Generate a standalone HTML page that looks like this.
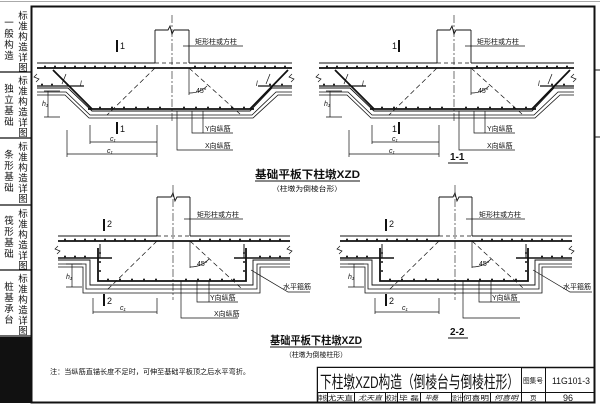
<!DOCTYPE html>
<html><head><meta charset="utf-8"><style>
html,body{margin:0;padding:0;background:#fff;}
body{width:600px;height:405px;overflow:hidden;}
svg{display:block;}
text{font-family:"Liberation Sans","Noto Sans CJK SC",sans-serif;fill:#111;}
</style></head><body>
<svg width="600" height="405" viewBox="0 0 600 405" xmlns="http://www.w3.org/2000/svg">
<defs>
<g id="top" fill="none" stroke="#111">
  <path d="M37 63H155M189 63H292" stroke-width="0.9"/>
  <path d="M155 63H189" stroke-dasharray="4 3" stroke-width="0.8"/>
  <path d="M37 68H292" stroke-width="1.8"/>
  <path d="M37 88H68L92 111H250L272 88H292" stroke-width="0.9"/>
  <path d="M37 92H66L90 115H252L276 92H292" stroke-width="0.8"/>
  <path d="M37 95H65L89 118H253L278 95H292" stroke-width="0.8"/>
  <path d="M88 109H254" stroke-width="1.8"/>
  <path d="M53 70L92 109M288 70L250 109" stroke-width="1.8"/>
  <path d="M37 86H84M258 86H292" stroke-width="1.2"/>
  <path d="M155 68L107 115M189 68L240 114" stroke-width="0.7" stroke-dasharray="5 3"/>
  <path d="M155 30V63M189 30V63M155 30H168l2-4l2 8l2-4H189" stroke-width="0.9"/>
  <path d="M172 15V122" stroke-width="0.6" stroke-dasharray="8 2 2 2"/>
  <path d="M189 93A25 25 0 0 0 207 86" stroke-width="0.7"/>
  <path d="M189 68V95" stroke-width="0.7"/>
  <path d="M183 46H243" stroke-width="0.7"/>
  <path d="M192 111V133H233M203 111V133M177 111V150H233" stroke-width="0.7"/>
  <path d="M117 40V52M117 122V134" stroke-width="2"/>
  <path d="M48 91V117M44 91H60M44 117H60" stroke-width="0.7"/>
  <path d="M90 142H157M67 154H157M67 130V157M157 125V157M90 125V144" stroke-width="0.7"/>
  <path d="M37 74l-3 3l5 2l-3 3M292 74l-3 3l5 2l-3 3" stroke-width="0.7"/>
  <path d="M62 84l4-10M266 84l4-10" stroke-width="0.7"/>
  <g fill="#111" stroke="none">
    <circle cx="45" cy="66.5" r="1"/><circle cx="55" cy="66.5" r="1"/><circle cx="65" cy="66.5" r="1"/><circle cx="75" cy="66.5" r="1"/><circle cx="85" cy="66.5" r="1"/><circle cx="95" cy="66.5" r="1"/><circle cx="105" cy="66.5" r="1"/><circle cx="115" cy="66.5" r="1"/><circle cx="125" cy="66.5" r="1"/><circle cx="135" cy="66.5" r="1"/><circle cx="145" cy="66.5" r="1"/><circle cx="195" cy="66.5" r="1"/><circle cx="205" cy="66.5" r="1"/><circle cx="215" cy="66.5" r="1"/><circle cx="225" cy="66.5" r="1"/><circle cx="235" cy="66.5" r="1"/><circle cx="245" cy="66.5" r="1"/><circle cx="255" cy="66.5" r="1"/><circle cx="265" cy="66.5" r="1"/><circle cx="275" cy="66.5" r="1"/><circle cx="285" cy="66.5" r="1"/>
    <circle cx="100" cy="107.5" r="1"/><circle cx="112" cy="107.5" r="1"/><circle cx="124" cy="107.5" r="1"/><circle cx="136" cy="107.5" r="1"/><circle cx="148" cy="107.5" r="1"/><circle cx="160" cy="107.5" r="1"/><circle cx="184" cy="107.5" r="1"/><circle cx="196" cy="107.5" r="1"/><circle cx="208" cy="107.5" r="1"/><circle cx="220" cy="107.5" r="1"/><circle cx="232" cy="107.5" r="1"/><circle cx="244" cy="107.5" r="1"/>
    <circle cx="42" cy="84.5" r="1"/><circle cx="52" cy="84.5" r="1"/><circle cx="270" cy="84.5" r="1"/><circle cx="282" cy="84.5" r="1"/>
  </g>
</g>
<g id="bot" fill="none" stroke="#111">
  <path d="M58 236H157M190 236H290" stroke-width="0.9"/>
  <path d="M157 236H190" stroke-dasharray="4 3" stroke-width="0.8"/>
  <path d="M58 241H290" stroke-width="1.8"/>
  <path d="M58 260H90V285H253V260H290" stroke-width="0.9"/>
  <path d="M58 264H86V289H257V264H290" stroke-width="0.8"/>
  <path d="M58 267H83V293H260V267H290" stroke-width="0.8"/>
  <path d="M98 248V281H246V248" stroke-width="1.8"/>
  <path d="M58 258H112M234 258H290" stroke-width="1.4"/>
  <path d="M100 244V258M244 244V258" stroke-width="1"/>
  <path d="M157 241L107 290M190 241L242 289" stroke-width="0.7" stroke-dasharray="5 3"/>
  <path d="M157 197V236M190 197V236M157 197H171l2-4l2 8l2-4H190" stroke-width="0.9"/>
  <path d="M173 185V300" stroke-width="0.6" stroke-dasharray="8 2 2 2"/>
  <path d="M190 267A26 26 0 0 0 209 259" stroke-width="0.7"/>
  <path d="M190 241V268" stroke-width="0.7"/>
  <path d="M184 219H243" stroke-width="0.7"/>
  <path d="M197 281V302H238M209 281V302M181 281V318H238" stroke-width="0.7"/>
  <path d="M251 270L288 292H310" stroke-width="0.7"/>
  <path d="M104 219V231M104 294V306" stroke-width="2"/>
  <path d="M72 264V287M66 264H82M66 287H82" stroke-width="0.7"/>
  <path d="M93 312H157M93 298V314M157 298V314" stroke-width="0.7"/>
  <path d="M58 246l-3 3l5 2l-3 3M290 246l-3 3l5 2l-3 3" stroke-width="0.7"/>
  <g fill="#111" stroke="none">
    <circle cx="65" cy="239.5" r="1"/><circle cx="75" cy="239.5" r="1"/><circle cx="85" cy="239.5" r="1"/><circle cx="95" cy="239.5" r="1"/><circle cx="105" cy="239.5" r="1"/><circle cx="115" cy="239.5" r="1"/><circle cx="125" cy="239.5" r="1"/><circle cx="135" cy="239.5" r="1"/><circle cx="145" cy="239.5" r="1"/><circle cx="200" cy="239.5" r="1"/><circle cx="210" cy="239.5" r="1"/><circle cx="220" cy="239.5" r="1"/><circle cx="230" cy="239.5" r="1"/><circle cx="240" cy="239.5" r="1"/><circle cx="250" cy="239.5" r="1"/><circle cx="260" cy="239.5" r="1"/><circle cx="270" cy="239.5" r="1"/><circle cx="280" cy="239.5" r="1"/>
    <circle cx="108" cy="279.5" r="1"/><circle cx="120" cy="279.5" r="1"/><circle cx="132" cy="279.5" r="1"/><circle cx="144" cy="279.5" r="1"/><circle cx="156" cy="279.5" r="1"/><circle cx="186" cy="279.5" r="1"/><circle cx="198" cy="279.5" r="1"/><circle cx="210" cy="279.5" r="1"/><circle cx="222" cy="279.5" r="1"/><circle cx="234" cy="279.5" r="1"/>
    <circle cx="100" cy="253" r="1"/><circle cx="100" cy="262" r="1"/><circle cx="100" cy="271" r="1"/><circle cx="244" cy="253" r="1"/><circle cx="244" cy="262" r="1"/><circle cx="244" cy="271" r="1"/>
    <circle cx="65" cy="256.5" r="1"/><circle cx="75" cy="256.5" r="1"/><circle cx="85" cy="256.5" r="1"/><circle cx="260" cy="256.5" r="1"/><circle cx="270" cy="256.5" r="1"/><circle cx="280" cy="256.5" r="1"/>
  </g>
</g>
</defs>

<!-- frame -->
<path d="M0 1.5H600" stroke="#aaa" stroke-width="1"/>
<rect x="31.5" y="6.5" width="563" height="396" fill="none" stroke="#111" stroke-width="2"/>
<path d="M0 72H31M0 138H31M0 205H31M0 270H31M0 336H31" stroke="#111" stroke-width="1.2"/>
<rect x="0" y="337" width="31" height="66" fill="#111"/>
<path d="M594 70H600M594 137H600" stroke="#111"/>

<!-- sidebar text -->
<g font-size="9.5" text-anchor="middle">
<text x="23" y="19">标</text><text x="23" y="29.5">准</text><text x="23" y="40">构</text><text x="23" y="50.5">造</text><text x="23" y="61">详</text><text x="23" y="71">图</text>
<text x="9" y="26">一</text><text x="9" y="37">般</text><text x="9" y="48">构</text><text x="9" y="59">造</text>
<text x="23" y="84">标</text><text x="23" y="94.5">准</text><text x="23" y="105">构</text><text x="23" y="115.5">造</text><text x="23" y="126">详</text><text x="23" y="136">图</text>
<text x="9" y="92">独</text><text x="9" y="103">立</text><text x="9" y="114">基</text><text x="9" y="125">础</text>
<text x="23" y="150">标</text><text x="23" y="160.5">准</text><text x="23" y="171">构</text><text x="23" y="181.5">造</text><text x="23" y="192">详</text><text x="23" y="202">图</text>
<text x="9" y="158">条</text><text x="9" y="169">形</text><text x="9" y="180">基</text><text x="9" y="191">础</text>
<text x="23" y="217">标</text><text x="23" y="227.5">准</text><text x="23" y="238">构</text><text x="23" y="248.5">造</text><text x="23" y="259">详</text><text x="23" y="269">图</text>
<text x="9" y="224">筏</text><text x="9" y="235">形</text><text x="9" y="246">基</text><text x="9" y="257">础</text>
<text x="23" y="282">标</text><text x="23" y="292.5">准</text><text x="23" y="303">构</text><text x="23" y="313.5">造</text><text x="23" y="324">详</text><text x="23" y="334">图</text>
<text x="9" y="290">桩</text><text x="9" y="301">基</text><text x="9" y="312">承</text><text x="9" y="323">台</text>
</g>

<use href="#top"/>
<use href="#top" transform="translate(282,0)"/>
<use href="#bot"/>
<use href="#bot" transform="translate(282,0)"/>

<!-- top labels -->
<g font-size="7">
<text x="195" y="44">矩形柱或方柱</text><text x="477" y="44">矩形柱或方柱</text>
<text x="205" y="131">Y向纵筋</text><text x="487" y="131">Y向纵筋</text>
<text x="205" y="148">X向纵筋</text><text x="487" y="148">X向纵筋</text>
<text x="196" y="93">45°</text><text x="478" y="93">45°</text>
<text x="80" y="86" font-style="italic">l</text><text x="362" y="86" font-style="italic">l</text>
<text x="256" y="86" font-style="italic">l</text><text x="538" y="86" font-style="italic">l</text>
<text x="110" y="141" font-style="italic">c₁</text><text x="392" y="141" font-style="italic">c₁</text>
<text x="107" y="153" font-style="italic">c₁</text><text x="389" y="153" font-style="italic">c₁</text>
<text x="42" y="106" font-style="italic">h₁</text><text x="324" y="106" font-style="italic">h₁</text>
<text x="120" y="49" font-size="9">1</text><text x="120" y="132" font-size="9">1</text>
<text x="392" y="49" font-size="9">1</text><text x="392" y="132" font-size="9">1</text>
</g>
<g font-size="7">
<text x="197" y="217">矩形柱或方柱</text><text x="479" y="217">矩形柱或方柱</text>
<text x="210" y="300">Y向纵筋</text><text x="492" y="300">Y向纵筋</text>
<text x="214" y="316">X向纵筋</text>
<text x="283" y="289">水平箍筋</text><text x="563" y="289">水平箍筋</text>
<text x="197" y="266">45°</text><text x="479" y="266">45°</text>
<text x="66" y="279" font-style="italic">h₁</text><text x="348" y="279" font-style="italic">h₁</text>
<text x="120" y="310" font-style="italic">c₁</text><text x="402" y="310" font-style="italic">c₁</text>
<text x="107" y="227" font-size="9">2</text><text x="107" y="304" font-size="9">2</text>
<text x="389" y="227" font-size="9">2</text><text x="389" y="304" font-size="9">2</text>
</g>

<!-- captions -->
<text x="255" y="178" font-size="11" font-weight="bold" textLength="105" lengthAdjust="spacingAndGlyphs">基础平板下柱墩XZD</text>
<path d="M255 181H360" stroke="#111" stroke-width="1"/>
<text x="272" y="191" font-size="7" textLength="70" lengthAdjust="spacingAndGlyphs">（柱墩为倒棱台形）</text>
<text x="450" y="160" font-size="10" font-weight="bold">1-1</text>
<path d="M448 163H468" stroke="#111"/>
<text x="270" y="344" font-size="11" font-weight="bold" textLength="92" lengthAdjust="spacingAndGlyphs">基础平板下柱墩XZD</text>
<path d="M270 347H362" stroke="#111" stroke-width="1"/>
<text x="285" y="357" font-size="7" textLength="62" lengthAdjust="spacingAndGlyphs">（柱墩为倒棱柱形）</text>
<text x="450" y="335" font-size="10" font-weight="bold">2-2</text>
<path d="M448 338H468" stroke="#111"/>
<text x="50" y="374" font-size="7" textLength="200" lengthAdjust="spacingAndGlyphs">注：当纵筋直锚长度不足时，可伸至基础平板顶之后水平弯折。</text>

<!-- title block -->
<g fill="none" stroke="#111" stroke-width="1">
<rect x="317.5" y="367.5" width="277" height="35" stroke-width="1.5"/>
<path d="M317 392.5H595M521.5 367V403M545.5 367V403"/>
<path d="M327.5 392V403M354.5 392V403M385.5 392V403M397.5 392V403M420.5 392V403M451.5 392V403M462.5 392V403M490.5 392V403"/>
</g>
<rect x="318" y="368" width="203" height="24" fill="#fff"/>
<text x="320" y="388" font-size="17" textLength="199" lengthAdjust="spacingAndGlyphs">下柱墩XZD构造（倒棱台与倒棱柱形）</text>
<text x="523" y="383" font-size="7" textLength="20" lengthAdjust="spacingAndGlyphs">图集号</text>
<text x="552" y="384" font-size="9" textLength="38" lengthAdjust="spacingAndGlyphs">11G101-3</text>
<g font-size="6.5">
<text x="318" y="400" textLength="9" lengthAdjust="spacingAndGlyphs">审核</text><text x="328" y="400" textLength="25" lengthAdjust="spacingAndGlyphs">尤天直</text><text x="358" y="400" font-style="italic" textLength="24" lengthAdjust="spacingAndGlyphs">尤天直</text>
<text x="386" y="400" textLength="11" lengthAdjust="spacingAndGlyphs">校对</text><text x="399" y="400" textLength="20" lengthAdjust="spacingAndGlyphs">毕 磊</text><text x="425" y="400" font-style="italic">毕磊</text>
<text x="452" y="400" textLength="10" lengthAdjust="spacingAndGlyphs">设计</text><text x="463" y="400" textLength="26" lengthAdjust="spacingAndGlyphs">何喜明</text><text x="494" y="400" font-style="italic" textLength="24" lengthAdjust="spacingAndGlyphs">何喜明</text>
<text x="530" y="400">页</text>
</g>
<text x="563" y="401" font-size="9">96</text>
</svg>
</body></html>
